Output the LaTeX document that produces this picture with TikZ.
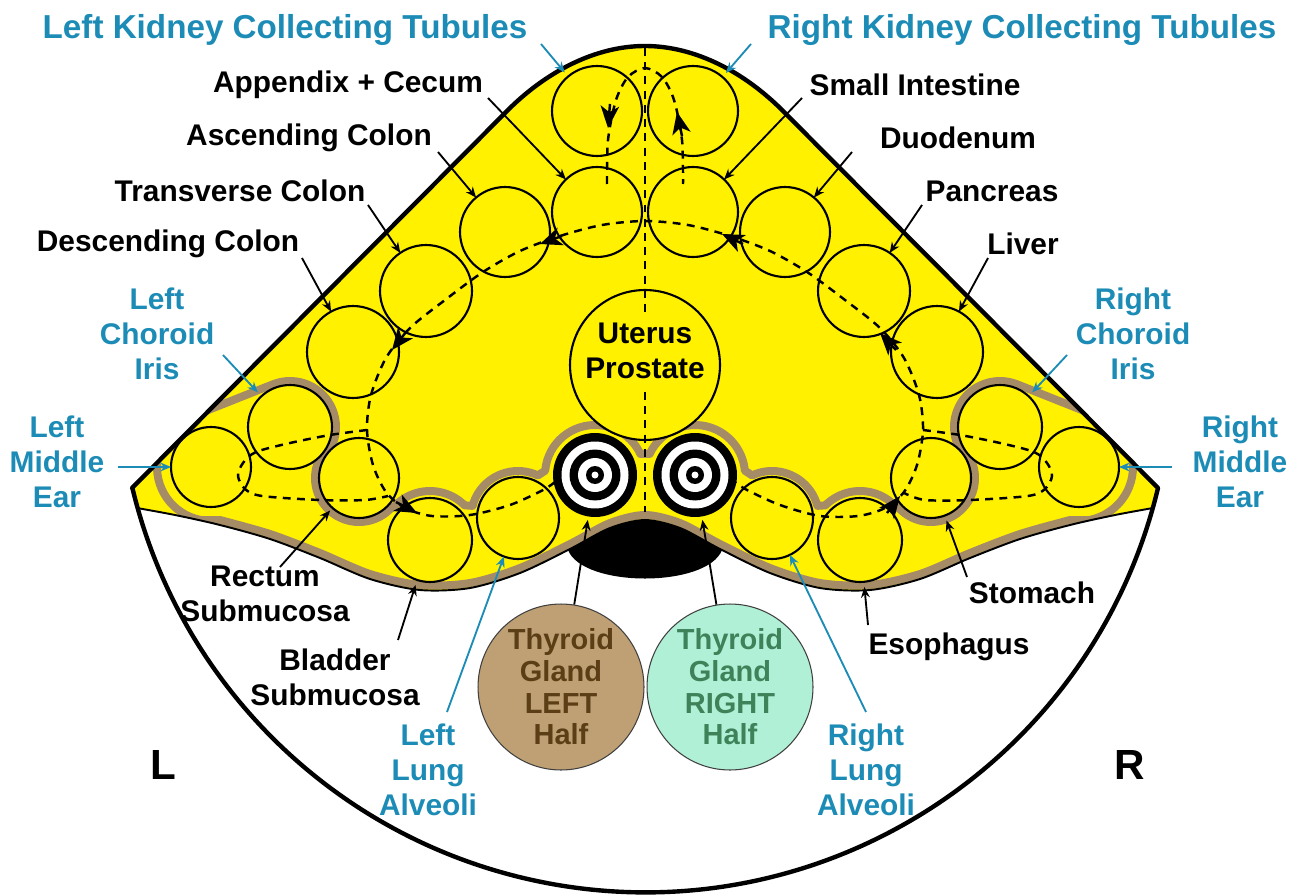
\documentclass[tikz,border=0pt]{standalone}
\usepackage{fontspec}
\setmainfont{Liberation Sans}
\usetikzlibrary{arrows.meta,calc}
\definecolor{organyellow}{RGB}{255,241,0}
\definecolor{bandtan}{RGB}{166,140,102}
\definecolor{labelblue}{RGB}{28,140,182}
\definecolor{thyleftfill}{RGB}{190,160,116}
\definecolor{thylefttext}{RGB}{92,62,22}
\definecolor{thyrightfill}{RGB}{176,240,214}
\definecolor{thyrighttext}{RGB}{62,130,90}

\begin{document}
\begin{tikzpicture}[x=0.02cm,y=-0.02cm,
  organ/.style={circle, draw=black, line width=1.2pt, fill=organyellow, inner sep=0pt, outer sep=0pt},
  target/.style={circle, fill=black, inner sep=0pt, outer sep=0pt, minimum size=1.68cm},
  lbl/.style={font=\fontsize{17}{19.8}\selectfont\bfseries, align=center, inner sep=0pt, text=black},
  blbl/.style={lbl, text=labelblue},
  toplbl/.style={blbl, font=\fontsize{18.9}{21}\selectfont\bfseries},
  conn/.style={draw=black, line width=1.05pt, -{Stealth[length=6pt,width=5pt]}},
  bconn/.style={conn, color=labelblue},
  flow/.style={line width=1.4pt, dash pattern=on 4.5pt off 3.6pt},
  flowhead/.style={line width=1.4pt, -{Stealth[length=12.5pt,width=10.5pt,inset=3.5pt]}},
  thyroid/.style={circle, draw=black!75, line width=0.6pt, minimum size=3.32cm, inner sep=0pt,
    align=center, font=\fontsize{16.5}{18}\selectfont\bfseries},
]
\useasboundingbox (0,0) rectangle (1290,895);

% yellow body region
\fill[organyellow] (137,508) -- (132,488) -- (505,113) .. controls (545,72) and (595,46) .. (645,46)
  .. controls (695,46) and (745,72) .. (785,113) -- (1158,488) -- (1153,508)
  -- plot[smooth] coordinates {(1153,508) (1115,515) (1070,525) (1020,539) (970,558) (920,579) (870,590) (820,588) (770,573) (720,549) (680,528) (645,520) (610,528) (570,549) (520,573) (470,588) (420,590) (370,579) (320,558) (270,539) (220,525) (175,515) (137,508)} -- cycle;

% tan band around the lower organ group
\begin{scope}
\clip (137,508) -- (132,488) -- (505,113) .. controls (545,72) and (595,46) .. (645,46)
  .. controls (695,46) and (745,72) .. (785,113) -- (1158,488) -- (1153,508)
  -- plot[smooth] coordinates {(1153,508) (1115,515) (1070,525) (1020,539) (970,558) (920,579) (870,590) (820,588) (770,573) (720,549) (680,528) (645,520) (610,528) (570,549) (520,573) (470,588) (420,590) (370,579) (320,558) (270,539) (220,525) (175,515) (137,508)} -- cycle;
\draw[bandtan, line width=0.16cm, line join=round]
  ($(211,467)+(-100:1.08cm)$) arc[start angle=-100, end angle=-248.3, radius=1.08cm]
  -- ($(290,427)+(-248.3:0.92cm)$) arc[start angle=-248.3, end angle=-379.3, radius=0.92cm]
  -- ($(359,478)+(-198.5:0.88cm)$) arc[start angle=-198.5, end angle=-41.1, radius=0.88cm]
  -- ($(430,540)+(-221.1:0.98cm)$) arc[start angle=-221.1, end angle=-315, radius=0.98cm]
  -- ($(518,518)+(-195:0.94cm)$) arc[start angle=-195, end angle=-295, radius=0.94cm]
  -- ($(595,475)+(-185:1cm)$) arc[start angle=-185, end angle=-335, radius=1cm]
  -- ($(695,475)+(-205:1cm)$) arc[start angle=-205, end angle=-355, radius=1cm]
  -- ($(772,518)+(-245:0.94cm)$) arc[start angle=-245, end angle=-345, radius=0.94cm]
  -- ($(860,540)+(-225:0.98cm)$) arc[start angle=-225, end angle=-318.9, radius=0.98cm]
  -- ($(931,478)+(-138.9:0.88cm)$) arc[start angle=-138.9, end angle=18.5, radius=0.88cm]
  -- ($(1000,427)+(-160.7:0.92cm)$) arc[start angle=-160.7, end angle=-291.7, radius=0.92cm]
  -- ($(1079,467)+(-291.7:1.08cm)$) arc[start angle=-291.7, end angle=-440, radius=1.08cm]
  -- plot[smooth] coordinates {(1070,520) (1020,534) (970,553) (920,574) (870,585) (820,583) (770,568) (720,544) (680,523) (645,515) (610,523) (570,544) (520,568) (470,583) (420,585) (370,574) (320,553) (270,534) (220,520)}
  -- cycle;
\end{scope}

% organ circles
\node[organ, minimum size=1.8cm]  (kidL)  at (597,111) {};
\node[organ, minimum size=1.8cm]  (kidR)  at (693,111) {};
\node[organ, minimum size=1.8cm]  (appx)  at (597,212) {};
\node[organ, minimum size=1.8cm]  (smint) at (693,212) {};
\node[organ, minimum size=1.8cm]  (ascC)  at (505,232) {};
\node[organ, minimum size=1.8cm]  (duod)  at (785,232) {};
\node[organ, minimum size=1.84cm] (trvC)  at (426,291) {};
\node[organ, minimum size=1.84cm] (panc)  at (864,291) {};
\node[organ, minimum size=1.84cm] (dscC)  at (353,352) {};
\node[organ, minimum size=1.84cm] (livr)  at (937,352) {};
\node[organ, minimum size=3cm]    (uter)  at (645,365) {};
\node[organ, minimum size=1.68cm] (chL)   at (290,427) {};
\node[organ, minimum size=1.68cm] (chR)   at (1000,427) {};
\node[organ, minimum size=1.6cm]  (meL)   at (211,467) {};
\node[organ, minimum size=1.6cm]  (meR)   at (1079,467) {};
\node[organ, minimum size=1.6cm]  (rect)  at (359,478) {};
\node[organ, minimum size=1.6cm]  (stom)  at (931,478) {};
\node[organ, minimum size=1.68cm] (bldr)  at (430,540) {};
\node[organ, minimum size=1.68cm] (esop)  at (860,540) {};
\node[organ, minimum size=1.64cm] (lungL) at (518,518) {};
\node[organ, minimum size=1.64cm] (lungR) at (772,518) {};

% dashed flow lines
\draw[flow] (645,48) -- (645,314);
\draw[flow] (645,392) -- (645,512);
\draw[flow] plot[smooth] coordinates {(607,184) (608,140) (616,100) (628,77) (645,68) (662,77) (674,100) (682,140) (683,184)};
\draw[flow] plot[smooth] coordinates {(555,482) (543,490) (510,505) (470,515) (432,516) (405,508) (386,492) (373,465) (367,430) (371,395) (386,358) (410,328) (445,300) (483,272) (520,251) (560,236) (602,225) (645,221) (688,225) (730,236) (770,251) (807,272) (845,300) (880,328) (904,358) (919,395) (923,430) (917,465) (904,492) (885,508) (858,516) (820,516) (780,505) (747,490) (735,482)};
\draw[flow] plot[smooth] coordinates {(367,430) (330,435) (290,443) (256,452) (243,463) (238,476) (245,489) (262,496) (320,500) (365,500) (388,496)};
\draw[flow] plot[smooth] coordinates {(923,430) (960,435) (1000,443) (1034,452) (1047,463) (1052,476) (1045,489) (1028,496) (970,500) (925,500) (904,493)};

\draw[flowhead] (610,104) -- (608,128);
\draw[flowhead] (682,136) -- (677,112);
\draw[flowhead] (562,236) -- (540,244);
\draw[flowhead] (743,244) -- (722,234);
\draw[flowhead] (406,332) -- (392,350);
\draw[flowhead] (896,350) -- (880,333);
\draw[flowhead] (396,502) -- (417,513);
\draw[flowhead] (887,513) -- (900,496);

% concentric target discs
\foreach \cx/\nm in {595/tgL, 695/tgR}{
  \node[target] (\nm) at (\cx,475) {};
  \fill[white] (\nm) circle[radius=0.67cm];
  \fill[black] (\nm) circle[radius=0.51cm];
  \fill[white] (\nm) circle[radius=0.34cm];
  \fill[black] (\nm) circle[radius=0.18cm];
  \fill[white] (\nm) circle[radius=0.07cm];
}

% black lens, lower edge of the yellow body, outer contour
\fill[black] plot[smooth] coordinates {(568,550) (610,528) (645,520) (680,528) (722,550)}
  .. controls (707,588) and (583,588) .. (568,550) -- cycle;
\draw[line width=1.1pt] plot[smooth] coordinates {(137,508) (175,515) (220,525) (270,539) (320,558) (370,579) (420,590) (470,588) (520,573) (570,549) (610,528) (645,520) (680,528) (720,549) (770,573) (820,588) (870,590) (920,579) (970,558) (1020,539) (1070,525) (1115,515) (1153,508)};
\draw[line width=2.5pt, line join=round] (132,488) -- (505,113) .. controls (545,72) and (595,46) .. (645,46)
  .. controls (695,46) and (745,72) .. (785,113) -- (1158,488)
  arc[start angle=346.5, end angle=193.5, radius=10.55cm] -- cycle;

% text inside the central circle
\node[lbl] (uterlab) at (645,351) {Uterus\\Prostate};

% thyroid halves
\node[thyroid, fill=thyleftfill, text=thylefttext] (thyL) at (561,687) {Thyroid\\Gland\\LEFT\\Half};
\node[thyroid, fill=thyrightfill, text=thyrighttext] (thyR) at (730,687) {Thyroid\\Gland\\RIGHT\\Half};
\draw[conn, shorten >=2pt] (thyL) -- (tgL);
\draw[conn, shorten >=2pt] (thyR) -- (tgR);

% labels
\node[toplbl] (kidLlab) at (285,30) {Left Kidney Collecting Tubules};
\node[toplbl] (kidRlab) at (1022,30) {Right Kidney Collecting Tubules};
\node[lbl] (appxlab)  at (348,85)  {Appendix + Cecum};
\node[lbl] (smintlab) at (915,85)  {Small Intestine};
\node[lbl] (asclab)   at (309,138) {Ascending Colon};
\node[lbl] (duodlab)  at (958,138) {Duodenum};
\node[lbl] (trvlab)   at (240,191) {Transverse Colon};
\node[lbl] (panclab)  at (992,191) {Pancreas};
\node[lbl] (dsclab)   at (168,244) {Descending Colon};
\node[lbl] (livrlab)  at (1023,244) {Liver};
\node[blbl] (chLlab)  at (157,334) {Left\\Choroid\\Iris};
\node[blbl] (chRlab)  at (1133,334) {Right\\Choroid\\Iris};
\node[blbl] (meLlab)  at (57,462) {Left\\Middle\\Ear};
\node[blbl] (meRlab)  at (1240,462) {Right\\Middle\\Ear};
\node[lbl] (rectlab)  at (265,594) {Rectum\\Submucosa};
\node[lbl] (bldrlab)  at (335,677) {Bladder\\Submucosa};
\node[blbl] (lungLlab) at (428,770) {Left\\Lung\\Alveoli};
\node[blbl] (lungRlab) at (866,770) {Right\\Lung\\Alveoli};
\node[lbl] (esoplab)  at (949,647) {Esophagus};
\node[lbl] (stomlab)  at (1032,593) {Stomach};
\node[lbl, font=\fontsize{24}{28}\selectfont\bfseries] (Lmark) at (163,765) {L};
\node[lbl, font=\fontsize{24}{28}\selectfont\bfseries] (Rmark) at (1130,765) {R};

% label connectors
\coordinate (kidLs)  at (541,44);
\coordinate (kidRs)  at (751,44);
\coordinate (appxs)  at (488,98);
\coordinate (smints) at (802,98);
\coordinate (ascs)   at (438,152);
\coordinate (duods)  at (852,152);
\coordinate (trvs)   at (368,205);
\coordinate (pancs)  at (922,205);
\coordinate (dscs)   at (302,258);
\coordinate (livrs)  at (988,258);
\coordinate (chLs)   at (223,355);
\coordinate (chRs)   at (1067,355);
\coordinate (meLs)   at (118,467);
\coordinate (meRs)   at (1172,467);
\coordinate (rects)  at (280,567);
\coordinate (bldrs)  at (398,640);
\coordinate (lungLs) at (447,712);
\coordinate (lungRs) at (866,712);
\coordinate (esops)  at (868,625);
\coordinate (stoms)  at (967,577);

\draw[bconn, shorten >=3pt] (kidLs) -- (kidL);
\draw[bconn, shorten >=3pt] (kidRs) -- (kidR);
\draw[conn] (appxs) -- (appx);
\draw[conn] (smints) -- (smint);
\draw[conn] (ascs) -- (ascC);
\draw[conn] (duods) -- (duod);
\draw[conn] (trvs) -- (trvC);
\draw[conn] (pancs) -- (panc);
\draw[conn] (dscs) -- (dscC);
\draw[conn] (livrs) -- (livr);
\draw[bconn, shorten >=3pt] (chLs) -- (chL);
\draw[bconn, shorten >=3pt] (chRs) -- (chR);
\draw[bconn] (meLs) -- (meL);
\draw[bconn] (meRs) -- (meR);
\draw[conn, shorten >=2pt] (rects) -- (rect);
\draw[conn, shorten >=3pt] (bldrs) -- (bldr);
\draw[bconn] (lungLs) -- (lungL);
\draw[bconn] (lungRs) -- (lungR);
\draw[conn, shorten >=3pt] (esops) -- (esop);
\draw[conn, shorten >=3pt] (stoms) -- (stom);
\end{tikzpicture}
\end{document}
